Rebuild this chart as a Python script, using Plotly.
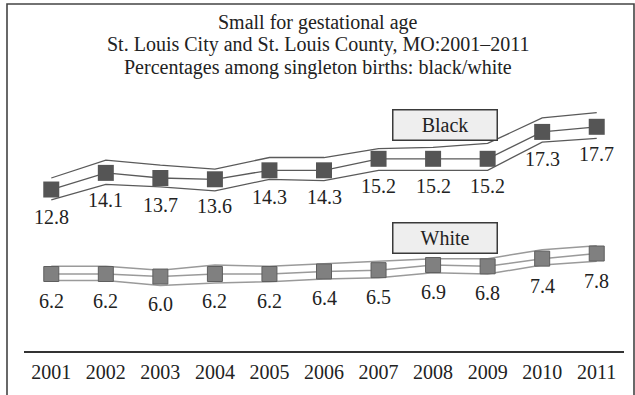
import plotly.graph_objects as go

years = ["2001", "2002", "2003", "2004", "2005", "2006", "2007", "2008", "2009", "2010", "2011"]
black = [12.8, 14.1, 13.7, 13.6, 14.3, 14.3, 15.2, 15.2, 15.2, 17.3, 17.7]
black_upper = [13.7, 15.1, 14.7, 14.4, 15.3, 15.3, 16.0, 16.1, 16.4, 18.4, 18.8]
black_lower = [12.0, 13.2, 13.0, 12.7, 13.6, 13.5, 14.3, 14.3, 14.3, 16.5, 16.8]
white = [6.2, 6.2, 6.0, 6.2, 6.2, 6.4, 6.5, 6.9, 6.8, 7.4, 7.8]
white_upper = [6.8, 6.8, 6.5, 6.9, 6.8, 7.0, 7.2, 7.4, 7.4, 8.1, 8.4]
white_lower = [5.7, 5.7, 5.3, 5.5, 5.6, 5.8, 5.9, 6.3, 6.2, 6.9, 7.2]

title_lines = ["Small for gestational age",
               "St. Louis City and St. Louis County, MO:2001\u20132011",
               "Percentages among singleton births: black/white"]
series_labels = ["Black", "White"]

FONT = "Liberation Serif"
FS = 20
W, H = 635, 395
ML, MR, MT, MB = 24, 11, 100, 44
PW, PH = W - ML - MR, H - MT - MB


def px_x(px):
    return (px - ML) / PW


def px_y(py):
    return (H - MB - py) / PH


fig = go.Figure()

# Black series: confidence bounds and main line
for vals in (black_upper, black_lower):
    fig.add_trace(go.Scatter(x=years, y=vals, mode="lines",
                             line=dict(color="#5a5a5a", width=1.3),
                             hoverinfo="skip", showlegend=False))
fig.add_trace(go.Scatter(x=years, y=black, mode="lines+markers",
                         line=dict(color="#5a5a5a", width=1.3),
                         marker=dict(symbol="square", size=16, color="#555555",
                                     line=dict(color="#555555", width=0)),
                         showlegend=False))

# White series: confidence bounds and main line
for vals in (white_upper, white_lower):
    fig.add_trace(go.Scatter(x=years, y=vals, mode="lines",
                             line=dict(color="#9a9a9a", width=1.5),
                             hoverinfo="skip", showlegend=False))
fig.add_trace(go.Scatter(x=years, y=white, mode="lines+markers",
                         line=dict(color="#9a9a9a", width=1.5),
                         marker=dict(symbol="square", size=15, color="#808080",
                                     line=dict(color="#5e5e5e", width=1)),
                         showlegend=False))

annotations = []
# value labels under each marker (x given as category index)
for series in (black, white):
    for i, v in enumerate(series):
        annotations.append(dict(x=i, y=v, xref="x", yref="y", text=f"{v:.1f}",
                                showarrow=False, yshift=-27,
                                xanchor="center", yanchor="middle",
                                font=dict(family=FONT, size=FS, color="#222222")))

# title lines
for line, cy in zip(title_lines, (22, 45, 68)):
    annotations.append(dict(x=(W / 2 - ML) / PW, y=px_y(cy), xref="paper", yref="paper",
                            text=line, showarrow=False, xanchor="center", yanchor="middle",
                            font=dict(family=FONT, size=FS, color="#222222")))

# series label boxes
for label, cy in zip(series_labels, (124.5, 238)):
    annotations.append(dict(x=px_x(445), y=px_y(cy), xref="paper", yref="paper",
                            text=label, showarrow=False, xanchor="center", yanchor="middle",
                            width=101, height=27, borderpad=1,
                            bgcolor="#eeeeee", bordercolor="#3a3a3a", borderwidth=1.5,
                            font=dict(family=FONT, size=FS, color="#222222")))

# linear scale: value 6.2 at 274 px, 12.8 px per unit
y0 = 6.2 - ((H - MB) - 274) / 12.8
y1 = 6.2 + (274 - MT) / 12.8

fig.update_layout(
    width=W, height=H,
    margin=dict(l=ML, r=MR, t=MT, b=MB),
    paper_bgcolor="white", plot_bgcolor="white",
    font=dict(family=FONT, size=FS, color="#222222"),
    hovermode=False,
    xaxis=dict(type="category", range=[-0.5, 10.5], showline=True, linecolor="#333333",
               linewidth=1.5, showgrid=False, zeroline=False, ticks="",
               ticklabelstandoff=2,
               tickfont=dict(family=FONT, size=FS, color="#222222")),
    yaxis=dict(range=[y0, y1], visible=False, showgrid=False, zeroline=False),
    annotations=annotations,
    shapes=[dict(type="rect", xref="paper", yref="paper",
                 x0=px_x(7), x1=px_x(634), y0=px_y(398), y1=px_y(4),
                 line=dict(color="#444444", width=1.6), fillcolor="rgba(0,0,0,0)")],
)

fig.write_html("out.html", config={"displayModeBar": False},
               post_script="document.body.style.margin='0';")
